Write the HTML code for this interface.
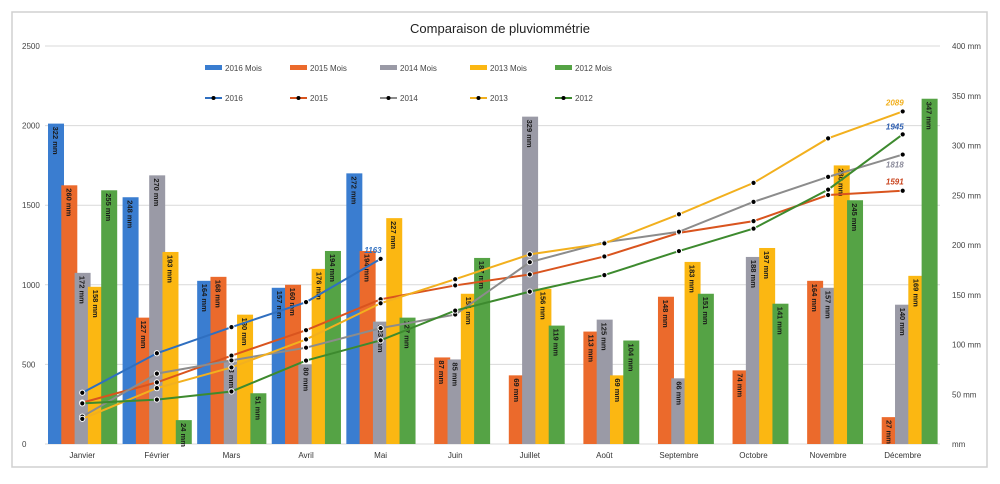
<!DOCTYPE html>
<html><head><meta charset="utf-8"><style>
body{margin:0;background:#fff;width:1000px;height:479px;overflow:hidden;font-family:"Liberation Sans",sans-serif}
</style></head><body>
<svg id="s" width="1000" height="479" xmlns="http://www.w3.org/2000/svg" font-family="Liberation Sans, sans-serif">
<rect x="12" y="12" width="975" height="455" fill="#fff" stroke="#d0d0d0" stroke-width="1.5"/>
<text x="500" y="33" font-size="13" text-anchor="middle" fill="#222">Comparaison de pluviommétrie</text>
</svg>
<script>
const s=document.getElementById('s');const NS='http://www.w3.org/2000/svg';
function el(t,a,txt){const e=document.createElementNS(NS,t);for(const k in a)e.setAttribute(k,a[k]);if(txt!=null)e.textContent=txt;s.appendChild(e);return e;}
const x0=45,x1=940,cw=(x1-x0)/12,yb=444;
const ym=v=>yb-v*0.995, yc=v=>yb-v*0.1592;
for(let i=0;i<=5;i++){const y=yb-i*79.6;el('line',{x1:x0,x2:x1,y1:y,y2:y,stroke:'#d9d9d9','stroke-width':1});
el('text',{x:22,y:y+3,'font-size':8,fill:'#444'},String(i*500));}
for(let i=0;i<=8;i++){const y=yb-i*49.75;el('text',{x:952,y:y+3,'font-size':8,fill:'#444'},i==0?'mm':(i*50)+' mm');}
const months=['Janvier','Février','Mars','Avril','Mai','Juin','Juillet','Août','Septembre','Octobre','Novembre','Décembre'];
months.forEach((m,i)=>el('text',{x:x0+cw*(i+.5),y:458,'font-size':8,'text-anchor':'middle',fill:'#333'},m));
const cols=['#3a7dd0','#eb6a2c','#9a9aa6','#fbb712','#55a345'];
const data=[
[322,248,164,157,272,null,null,null,null,null,null,null],
[260,127,168,160,194,87,69,113,148,74,164,27],
[172,270,83,80,123,85,329,125,66,188,157,140],
[158,193,130,176,227,151,156,69,183,197,280,169],
[255,24,51,194,127,187,119,104,151,141,245,347]];
for(let i=0;i<12;i++){for(let k=0;k<5;k++){const v=data[k][i];if(v==null)continue;
const bx=x0+cw*i+3+k*13.3, w=16;
el('rect',{x:bx,y:ym(v),width:w,height:v*0.995,fill:cols[k]});
const tx=bx+w/2-3,ty=ym(v)+3;
el('text',{x:tx,y:ty,'font-size':7.5,'font-weight':'bold',fill:'#1a1a1a',transform:`rotate(90 ${tx} ${ty})`},v+' mm');}}
const lineCols=['#2f6fc0','#d9541e','#8c8c8c','#f2b01e','#3d8a2e'];
const labCols=['#2f6fc0','#c9441e','#8a8a9a','#f2b01e','#2f5fb0'];
const ends=[['1163',-6],['1591',-6],['1818',13],['2089',-6],['1945',-5]];
for(let k=0;k<5;k++){let c=0,pts=[];for(let i=0;i<12;i++){const v=data[k][i];if(v==null)break;c+=v;pts.push([x0+cw*(i+.5),yc(c)]);}
el('polyline',{points:pts.map(p=>p.join(',')).join(' '),fill:'none',stroke:lineCols[k],'stroke-width':2});
pts.forEach(p=>{el('circle',{cx:p[0],cy:p[1],r:2.6,fill:'#000',stroke:'#fff','stroke-width':1});});
const lp=pts[pts.length-1];
el('text',{x:lp[0]+1,y:lp[1]+ends[k][1],'font-size':8,'font-weight':'bold','font-style':'italic','text-anchor':'end',fill:labCols[k]},ends[k][0]);}
const lx=[205,290,380,470,555],yrs=['2016','2015','2014','2013','2012'];
for(let k=0;k<5;k++){el('rect',{x:lx[k],y:65,width:17,height:5,fill:cols[k]});
el('text',{x:lx[k]+20,y:71,'font-size':8,fill:'#444'},yrs[k]+' Mois');
el('line',{x1:lx[k],x2:lx[k]+17,y1:98,y2:98,stroke:lineCols[k],'stroke-width':2});
el('circle',{cx:lx[k]+8.5,cy:98,r:2,fill:'#000'});
el('text',{x:lx[k]+20,y:101,'font-size':8,fill:'#444'},yrs[k]);}
</script>
</body></html>
